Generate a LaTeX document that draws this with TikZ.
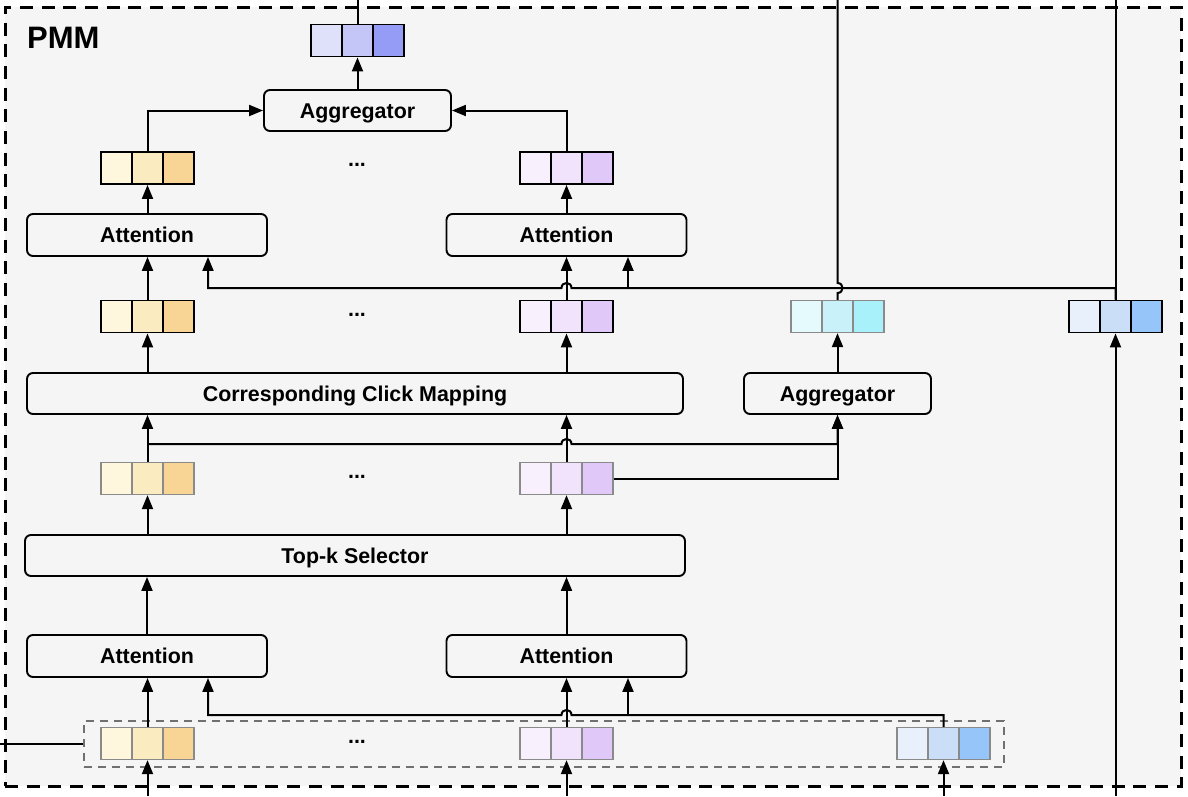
\documentclass[tikz,border=0pt]{standalone}
\usepackage{fontspec}
\setmainfont{Liberation Sans}
\usetikzlibrary{arrows.meta,calc}
\definecolor{bg}{HTML}{F5F5F5}
\definecolor{Y1}{HTML}{FEF7DE}\definecolor{Y2}{HTML}{FBEBC1}\definecolor{Y3}{HTML}{F8D595}
\definecolor{P1}{HTML}{F8F1FD}\definecolor{P2}{HTML}{F1E3FB}\definecolor{P3}{HTML}{E0C8F8}
\definecolor{C1}{HTML}{E4FAFC}\definecolor{C2}{HTML}{C9F1F9}\definecolor{C3}{HTML}{A8F0FA}
\definecolor{B1}{HTML}{E8F0FC}\definecolor{B2}{HTML}{CADEF8}\definecolor{B3}{HTML}{96C5F9}
\definecolor{I1}{HTML}{DFE0FA}\definecolor{I2}{HTML}{C4C6F8}\definecolor{I3}{HTML}{949CF6}
\definecolor{gline}{HTML}{8A8A8A}
\definecolor{dline}{HTML}{707070}
\newcommand\vecbox[7]{%
  \node[#7,fill=#4] (#1l) at (#2-31,#3) {};
  \node[#7,fill=#6] (#1r) at (#2+31,#3) {};
  \node[#7,fill=#5] (#1) at (#2,#3) {};
}
\tikzset{
  frame/.style={draw=black, fill=bg, line width=3pt, dash pattern=on 13pt off 8.7pt,
    minimum width=1176pt, minimum height=779pt, inner sep=0},
  inbox/.style={draw=dline, line width=2pt, dash pattern=on 8pt off 6pt,
    minimum width=920pt, minimum height=46pt, inner sep=0},
  blk/.style={draw, line width=1.9pt, rounded corners=6pt, inner sep=0,
    minimum height=41pt, text height=15pt, text depth=0pt,
    font=\bfseries\fontsize{21.4}{25}\selectfont},
  cellk/.style={draw=black, line width=1.9pt, minimum width=31pt, minimum height=32pt, inner sep=0},
  cellg/.style={draw=gline, line width=1.3pt, minimum width=31pt, minimum height=32pt, inner sep=0},
  dots/.style={inner sep=0, anchor=base, font=\bfseries\fontsize{21.4}{25}\selectfont},
  conn/.style={line width=2pt},
  arr/.style={conn, -{Triangle[length=14pt,width=11pt]}}
}
\begin{document}
\begin{tikzpicture}[x=1pt,y=-1pt]
\useasboundingbox (0,0) rectangle (1188,796);
\node[frame] (pmm) at (593,396.5) {};
\node[anchor=west, inner sep=0, font=\bfseries\fontsize{31}{36}\selectfont] (pmmlabel) at (27,38) {PMM};
\node[inbox] (inbox) at (544,743.5) {};

% blocks
\node[blk, minimum width=187pt] (aggT) at (357.5,110.5) {Aggregator};
\node[blk, minimum width=240pt, minimum height=42pt] (attTL) at (147,235) {Attention};
\node[blk, minimum width=240pt, minimum height=42pt] (attTR) at (566.5,235) {Attention};
\node[blk, minimum width=656pt] (ccm) at (355,393.5) {Corresponding Click Mapping};
\node[blk, minimum width=187pt] (aggM) at (837.5,393.5) {Aggregator};
\node[blk, minimum width=660pt] (topk) at (355,555.5) {Top-k Selector};
\node[blk, minimum width=240pt, minimum height=42pt] (attBL) at (147,656) {Attention};
\node[blk, minimum width=240pt, minimum height=42pt] (attBR) at (566.5,656) {Attention};

% dots
\node[dots] (d1) at (357,166.5) {...};
\node[dots] (d2) at (357,316.5) {...};
\node[dots] (d3) at (357,478.5) {...};
\node[dots] (d4) at (357,743.5) {...};

% vectors
\vecbox{vT}{357.5}{40.5}{I1}{I2}{I3}{cellk}
\vecbox{y1}{147.5}{168}{Y1}{Y2}{Y3}{cellk}
\vecbox{p1}{566.5}{168}{P1}{P2}{P3}{cellk}
\vecbox{y2}{147.5}{316.5}{Y1}{Y2}{Y3}{cellk}
\vecbox{p2}{566.5}{316.5}{P1}{P2}{P3}{cellk}
\vecbox{c2}{837.5}{316.5}{C1}{C2}{C3}{cellg}
\vecbox{b2}{1115.5}{316.5}{B1}{B2}{B3}{cellk}
\vecbox{y3}{147.5}{478.5}{Y1}{Y2}{Y3}{cellg}
\vecbox{p3}{566.5}{478.5}{P1}{P2}{P3}{cellg}
\vecbox{y4}{147.5}{743.5}{Y1}{Y2}{Y3}{cellg}
\vecbox{p4}{566.5}{743.5}{P1}{P2}{P3}{cellg}
\vecbox{b4}{943.5}{743.5}{B1}{B2}{B3}{cellg}

% free ends
\coordinate (oT1) at (357.5,0);
\coordinate (oT2) at (837.5,0);
\coordinate (oT3) at (1115.5,0);
\coordinate (iB1) at (147.5,796);
\coordinate (iB2) at (566.5,796);
\coordinate (iB3) at (943.5,796);
\coordinate (iB4) at (1115.5,796);
\coordinate (iL) at (0,743.5);

% connectors: top part
\draw[conn] (vT.north) -- (oT1);
\draw[arr] (aggT.north) -- (vT.south);
\draw[arr] (y1.north) |- (aggT.west);
\draw[arr] (p1.north) |- (aggT.east);
\draw[arr] (y1.south |- attTL.north) -- (y1.south);
\draw[arr] (p1.south |- attTR.north) -- (p1.south);
\draw[arr] (y2.north) -- (y2.north |- attTL.south);
\draw[arr] (p2.north) -- (p2.north |- attTR.south);
\draw[conn] (b2.north) -- (oT3);
\draw[arr] (b2.north) -- (b2.north |- 0,288) -- (571.5,288)
  .. controls (571.5,281.3) and (561.5,281.3) .. (561.5,288) -- (208,288) -- (208,0 |- attTL.south);
\draw[arr] (628,288) -- (628,0 |- attTR.south);
\draw[conn] (c2.north) -- (837.5,293) .. controls (844.2,293) and (844.2,283) .. (837.5,283) -- (oT2);
\draw[arr] (aggM.north) -- (c2.south);

% middle
\draw[arr] (y2.south |- ccm.north) -- (y2.south);
\draw[arr] (p2.south |- ccm.north) -- (p2.south);
\draw[arr] (y3.north) -- (y3.north |- ccm.south);
\draw[arr] (p3.north) -- (p3.north |- ccm.south);
\draw[arr] (y3.north |- 0,444) -- (561.5,444)
  .. controls (561.5,437.3) and (571.5,437.3) .. (571.5,444) -- (aggM.south |- 0,444) -- (aggM.south);
\draw[arr] (p3r.east) -| (aggM.south);
\draw[arr] (y3.south |- topk.north) -- (y3.south);
\draw[arr] (p3.south |- topk.north) -- (p3.south);
\draw[arr] (attBL.north) -- (attBL.north |- topk.south);
\draw[arr] (attBR.north) -- (attBR.north |- topk.south);

% bottom
\draw[arr] (y4.north) -- (y4.north |- attBL.south);
\draw[arr] (p4.north) -- (p4.north |- attBR.south);
\draw[arr] (b4.north) -- (b4.north |- 0,715) -- (571.5,715)
  .. controls (571.5,708.3) and (561.5,708.3) .. (561.5,715) -- (208,715) -- (208,0 |- attBL.south);
\draw[arr] (628,715) -- (628,0 |- attBR.south);
\draw[arr] (iB1) -- (y4.south);
\draw[arr] (iB2) -- (p4.south);
\draw[arr] (iB3) -- (b4.south);
\draw[arr] (iB4) -- (b2.south);
\draw[conn] (iL) -- (inbox.west);
\end{tikzpicture}
\end{document}
